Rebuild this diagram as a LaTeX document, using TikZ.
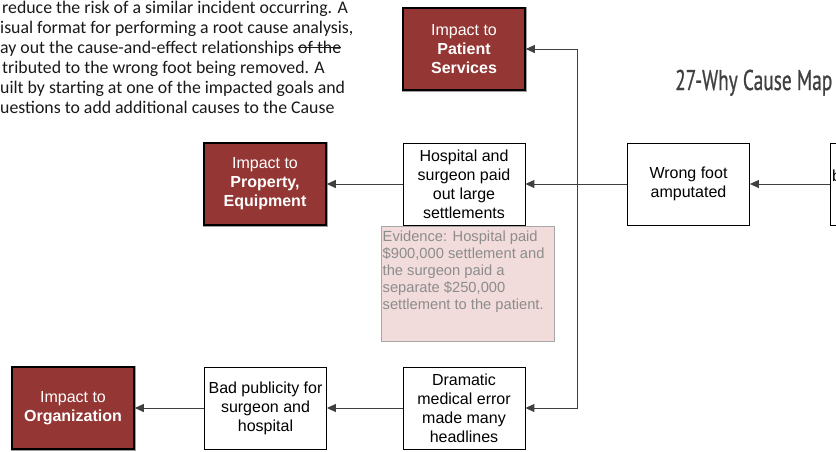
\documentclass[tikz,border=0pt]{standalone}
\usepackage{fontspec}
\setmainfont{Liberation Sans}
\newfontfamily\bodyfont{Carlito}
\newfontfamily\titlefont[FakeStretch=0.68,FakeBold=0.6]{PT Sans}
\usetikzlibrary{arrows.meta}
\definecolor{impred}{HTML}{943634}
\definecolor{evpink}{HTML}{F2DCDB}
\definecolor{evgray}{HTML}{8C8C8C}
\definecolor{linegray}{HTML}{404040}
\definecolor{titlegray}{HTML}{404040}
\newcommand\mystrike[1]{\setbox0\hbox{#1}\rlap{\rule[0.27em]{\wd0}{0.065em}}\box0}
\begin{document}
\begin{tikzpicture}[x=1pt,y=-1pt,
  cbox/.style={draw=black, fill=white, line width=0.8pt, minimum width=122pt, minimum height=82pt,
    inner sep=0pt, align=center, font=\fontsize{16}{19}\selectfont, text=black},
  impact/.style={cbox, fill=impred, line width=1.6pt, text=white,
    preaction={draw=gray!75, line width=3pt}},
  evid/.style={draw=gray!70, fill=evpink, text=evgray, inner xsep=1.5pt, inner ysep=0pt,
    anchor=north west, font=\fontsize{14.7}{17}\selectfont},
  arr/.style={draw=linegray, line width=0.9pt, -{Triangle[length=9pt,width=8pt]}},
  bodytxt/.style={anchor=base west, inner sep=0pt, font=\bodyfont\fontsize{17.8}{20}\selectfont, text=black!90},
]
\useasboundingbox (0,0) rectangle (836,451);
\clip (0,0) rectangle (836,451);

% left paragraph (cropped)
\node[bodytxt] (t1) at (2,13) {reduce the risk of a similar incident occurring. A};
\node[bodytxt] (t2) at (0,33) {isual format for performing a root cause analysis,};
\node[bodytxt] (t3) at (0,53) {ay out the cause-and-effect relationships \mystrike{of the}};
\node[bodytxt] (t4) at (2,73) {tributed to the wrong foot being removed. A};
\node[bodytxt] (t5) at (0,93) {uilt by starting at one of the impacted goals and};
\node[bodytxt] (t6) at (0,113) {uestions to add additional causes to the Cause};

% title
\node[anchor=base west, inner sep=0pt, text=titlegray, font=\titlefont\fontsize{28.5}{30}\selectfont] (title) at (675,90) {27-Why Cause Map};

% boxes
\node[impact] (patient) at (464,49) {\raisebox{-2pt}{\parbox{120pt}{\centering Impact to\\\textbf{Patient}\\\textbf{Services}}}};
\node[impact] (property) at (265,184) {\raisebox{-2pt}{\parbox{120pt}{\centering Impact to\\\textbf{Property,}\\\textbf{Equipment}}}};
\node[cbox] (hospital) at (464,184) {Hospital and\\surgeon paid\\out large\\settlements};
\node[cbox] (wrong) at (688.5,184) {Wrong foot\\amputated};
\node[cbox] (partial) at (891,184) {};
\node[anchor=base west, inner sep=0pt, font=\fontsize{16}{19}\selectfont] (partialtxt) at (832,181) {b};
\node[evid] (evidence) at (381,226) {\parbox[t][115pt][t]{170pt}{\raggedright\vspace{4.5pt}Evidence: Hospital paid\\\$900,000 settlement and\\the surgeon paid a\\separate \$250,000\\settlement to the patient.}};
\node[impact] (org) at (73,408) {\raisebox{-2pt}{\parbox{120pt}{\centering Impact to\\\textbf{Organization}}}};
\node[cbox] (badpub) at (265.5,408) {Bad publicity for\\surgeon and\\hospital};
\node[cbox] (dramatic) at (464,408) {Dramatic\\medical error\\made many\\headlines};

% connectors
\coordinate (J) at (577,184);
\draw[arr] (partial.west) -- (wrong.east);
\draw[arr] (wrong.west) -- (hospital.east);
\draw[arr] (J) |- (patient.east);
\draw[arr] (J) |- (dramatic.east);
\draw[arr] (hospital.west) -- (property.east);
\draw[arr] (dramatic.west) -- (badpub.east);
\draw[arr] (badpub.west) -- (org.east);
\end{tikzpicture}
\end{document}
